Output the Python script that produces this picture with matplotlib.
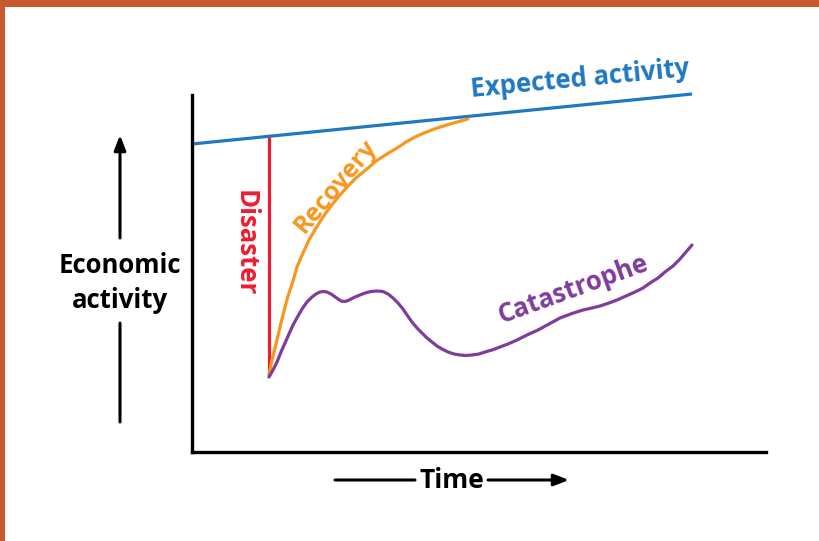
import matplotlib
matplotlib.use("Agg")
import matplotlib.pyplot as plt
from matplotlib.patches import Rectangle

# ---- data (time units / activity units) ----
expected_x = [0, 500]
expected_y = [308, 358]

disaster_x = [77, 77]
disaster_y = [315, 76]

recovery_x = [77, 80, 84, 88, 92, 96, 101, 105, 111, 117, 124, 131, 139, 147, 156, 165, 175,
              184, 195, 205, 214, 223, 232, 241, 250, 258, 267, 276]
recovery_y = [77, 92, 108, 125, 141, 156, 171, 185, 199, 212, 224, 235, 246, 256, 266, 275, 283,
              291, 298, 304, 310, 315, 319, 322.5, 325.5, 328, 330.5, 333]

catastrophe_x = [77, 81, 85, 89, 93, 97, 101, 106, 110, 115, 120, 124, 128, 131, 135, 139, 142,
                 146, 149, 152, 155, 159, 163, 168, 173, 179, 185, 191, 196, 201, 206, 211,
                 215, 220, 225, 230, 235, 240, 245, 250, 256, 262, 268, 274, 280, 287, 293,
                 300, 308, 316, 325, 335, 346, 357, 368, 380, 391, 400, 408, 417, 425, 434,
                 443, 451, 458, 466, 473, 481, 488, 494, 500]
catastrophe_y = [75, 82, 90, 100, 109, 118, 127, 136, 143, 150, 155, 158, 160, 160.5, 160, 158,
                 156, 153, 151, 150.5, 151, 153, 155, 157, 159, 160.5, 161, 160.5, 158, 154,
                 149, 143, 137, 130, 124, 119, 114, 110, 106, 103, 100, 98, 97, 96.5, 97, 98,
                 100, 102, 105, 108, 112, 117, 122, 128, 134, 138.5, 142, 144, 146, 149, 152,
                 156, 160, 164, 169, 174, 180, 186, 193, 200, 207]

labels = ["Expected activity", "Recovery", "Disaster", "Catastrophe"]
y_label = "Economic\nactivity"
x_label = "Time"

BLUE = "#1f78c3"
ORANGE = "#f7971e"
RED = "#ee1c2e"
PURPLE = "#7f3c9c"
BORDER = "#c8582e"
FONT = "Open Sans"

W, H = 819, 541
fig = plt.figure(figsize=(W / 100, H / 100), dpi=100)
ax = fig.add_axes([192 / W, 89 / H, 574 / W, 357 / H])
ax.set_xlim(0, 574)
ax.set_ylim(0, 357)
for s in ["top", "right"]:
    ax.spines[s].set_visible(False)
for s in ["left", "bottom"]:
    ax.spines[s].set_linewidth(2.4)
    ax.spines[s].set_color("black")
    ax.spines[s].set_capstyle("projecting")
ax.set_xticks([])
ax.set_yticks([])

lw = 2.3
ax.plot(expected_x, expected_y, color=BLUE, lw=lw, clip_on=False, solid_capstyle="butt")
ax.plot(disaster_x, disaster_y, color=RED, lw=lw, clip_on=False, solid_capstyle="butt")
ax.plot(recovery_x, recovery_y, color=ORANGE, lw=lw, clip_on=False,
        solid_joinstyle="round", solid_capstyle="round")
ax.plot(catastrophe_x, catastrophe_y, color=PURPLE, lw=lw, clip_on=False,
        solid_joinstyle="round", solid_capstyle="round")

tk = dict(fontfamily=FONT, fontweight="bold", ha="center", va="center",
          rotation_mode="anchor", clip_on=False)
ax.text(388, 373, labels[0], color=BLUE, fontsize=18.5, rotation=5.5, **tk)
ax.text(144, 266, labels[1], color=ORANGE, fontsize=18, rotation=50, **tk)
ax.text(53, 209, labels[2], color=RED, fontsize=18.5, rotation=-90, **tk)
ax.text(381, 163, labels[3], color=PURPLE, fontsize=18.5, rotation=20, **tk)

# y-axis label with arrow
ax.text(-72, 169, y_label, color="black", fontsize=18.5, linespacing=1.35, **tk)
ax.annotate("", xy=(-72, 129), xytext=(-72, 30), annotation_clip=False,
            arrowprops=dict(arrowstyle="-", color="black", lw=2.2, shrinkA=0, shrinkB=0))
ax.annotate("", xy=(-72, 317), xytext=(-72, 214), annotation_clip=False,
            arrowprops=dict(arrowstyle="-|>,head_length=0.9,head_width=0.35", color="black",
                            lw=2.2, shrinkA=0, shrinkB=0))

# x-axis label with arrow
ax.text(260, -28, x_label, color="black", fontsize=19, **tk)
ax.annotate("", xy=(223, -28), xytext=(143, -28), annotation_clip=False,
            arrowprops=dict(arrowstyle="-", color="black", lw=2.2, shrinkA=0, shrinkB=0))
ax.annotate("", xy=(377, -28), xytext=(296, -28), annotation_clip=False,
            arrowprops=dict(arrowstyle="-|>,head_length=0.9,head_width=0.35", color="black",
                            lw=2.2, shrinkA=0, shrinkB=0))

# orange frame (top and left)
fig.add_artist(Rectangle((0, 1 - 7 / H), 1, 7 / H, transform=fig.transFigure,
                         color=BORDER, lw=0))
fig.add_artist(Rectangle((0, 0), 5 / W, 1, transform=fig.transFigure,
                         color=BORDER, lw=0))

fig.savefig("out.png", dpi=100)
